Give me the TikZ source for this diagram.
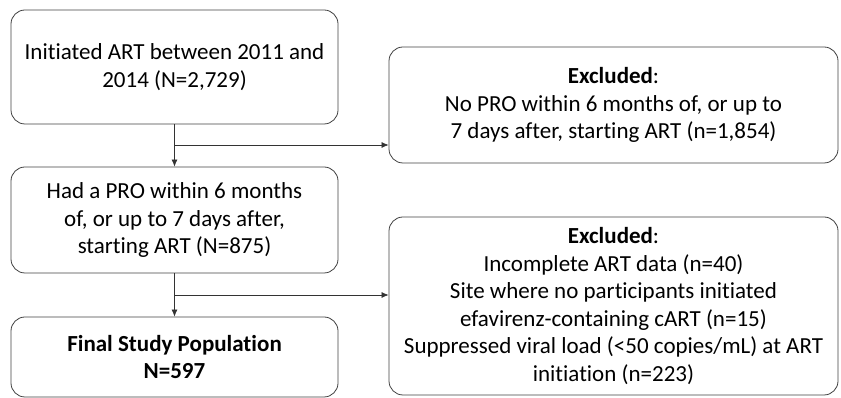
\documentclass[tikz,border=0pt]{standalone}
\usepackage{fontspec}
\setmainfont{Carlito}[Ligatures=NoCommon]
\usepackage{tikz}
\usetikzlibrary{arrows.meta}

\begin{document}
\begin{tikzpicture}
        [x=1pt,y=1pt,every node/.style={draw=black!75,line width=0.8pt,rounded corners=14pt,align=center,font=\fontsize{23}{27.5}\selectfont},
        every edge/.style={draw=black!80,line width=0.7pt,-{Latex[length=7pt,width=6pt]}}]
        \useasboundingbox (0,0) rectangle (841,398);
        \node[minimum width=327pt,minimum height=114pt] (init) at (174.5,331) {Initiated ART between 2011 and\\2014 (N=2,729)};
        \node[minimum width=327pt,minimum height=106pt] (pro) at (174.5,178) {Had a PRO within 6 months\\of, or up to 7 days after,\\starting ART (N=875)};
        \node[minimum width=327pt,minimum height=80pt] (final) at (174.5,41) {\textbf{Final Study Population}\\\textbf{N=597}};
        \node[minimum width=449pt,minimum height=116pt] (excl1) at (613.5,293) {\textbf{Excluded}:\\No PRO within 6 months of, or up to\\7 days after, starting ART (n=1,854)};
        \node[minimum width=449pt,minimum height=178pt] (excl2) at (613.5,92) {\textbf{Excluded}:\\Incomplete ART data (n=40)\\Site where no participants initiated\\efavirenz-containing cART (n=15)\\Suppressed viral load (<50 copies/mL) at ART\\initiation (n=223)};

        \coordinate (b1) at (174.5,253);
        \coordinate (b2) at (174.5,103);

        \path (init) edge (pro);
        \path (b1) edge (b1 -| excl1.west);
        \path (pro) edge (final);
        \path (b2) edge (b2 -| excl2.west);
    
    \end{tikzpicture}
\end{document}
